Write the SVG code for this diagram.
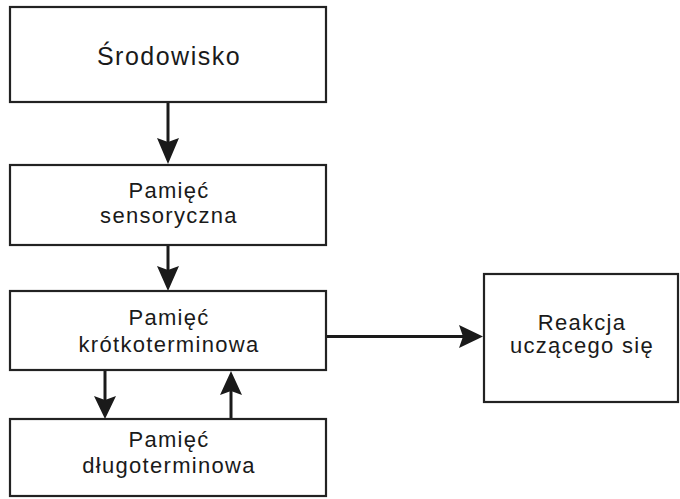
<svg xmlns="http://www.w3.org/2000/svg" width="680" height="499" viewBox="0 0 680 499">
<style>
.box{fill:#fff;stroke:#222;stroke-width:2.2}
.t{font-family:"Liberation Sans",Arial,sans-serif;font-size:22px;fill:#1a1a1a;text-anchor:middle;letter-spacing:1.3px}
.big{font-size:25px;letter-spacing:1.5px}
.ln{stroke:#1a1a1a;stroke-width:3;fill:none}
.hd{fill:#1a1a1a;stroke:none}
</style>
<rect width="680" height="499" fill="#fff"/>
<g id="connectors">
<line class="ln" x1="168" y1="102" x2="168" y2="142"/>
<path class="hd" d="M157,138 L168,142 L179,138 L168,164 Z"/>
<line class="ln" x1="168" y1="245" x2="168" y2="270"/>
<path class="hd" d="M157,266 L168,270 L179,266 L168,291 Z"/>
<line class="ln" x1="105" y1="370" x2="105" y2="400"/>
<path class="hd" d="M94,396 L105,400 L116,396 L105,419 Z"/>
<line class="ln" x1="231" y1="419" x2="231" y2="391"/>
<path class="hd" d="M220,395 L231,391 L242,395 L231,371 Z"/>
<line class="ln" x1="326" y1="336.5" x2="463" y2="336.5"/>
<path class="hd" d="M459,325 L463,336.5 L459,348 L483,336.5 Z"/>
</g>
<g id="srodowisko">
<rect class="box" x="10" y="7" width="316" height="95"/>
<text class="t big" x="169" y="65">Środowisko</text>
</g>
<g id="pamiec-sensoryczna">
<rect class="box" x="10" y="165" width="316" height="80"/>
<text class="t" x="169" y="198">Pamięć</text>
<text class="t" x="169" y="223">sensoryczna</text>
</g>
<g id="pamiec-krotkoterminowa">
<rect class="box" x="10" y="291" width="316" height="79"/>
<text class="t" x="169" y="325">Pamięć</text>
<text class="t" x="169" y="352">krótkoterminowa</text>
</g>
<g id="pamiec-dlugoterminowa">
<rect class="box" x="10" y="419" width="316" height="77"/>
<text class="t" x="169" y="447">Pamięć</text>
<text class="t" x="169" y="473">długoterminowa</text>
</g>
<g id="reakcja">
<rect class="box" x="484" y="274" width="194" height="128"/>
<text class="t" x="582" y="330">Reakcja</text>
<text class="t" x="582" y="353">uczącego się</text>
</g>
</svg>
